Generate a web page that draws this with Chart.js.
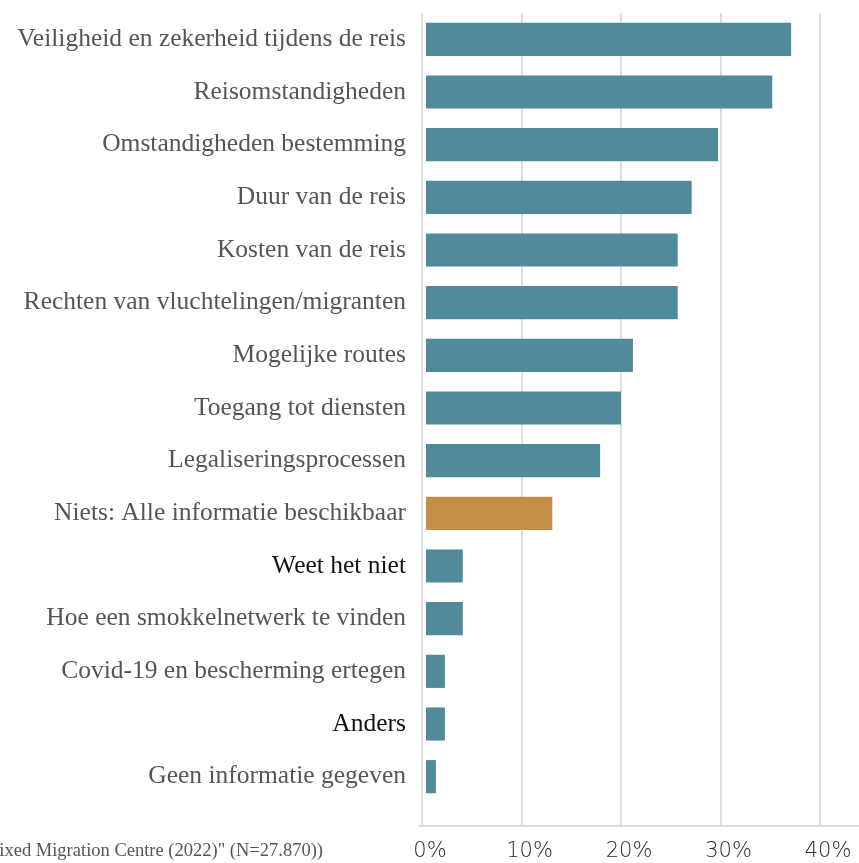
<!DOCTYPE html>
<html>
<head>
<meta charset="utf-8">
<script src="https://cdn.jsdelivr.net/npm/chart.js@4"></script>
<style>
  body { margin: 0; background: #fff; overflow: hidden; }
  #wrap { position: relative; width: 859px; height: 863px; overflow: hidden; }
  #source {
    position: absolute; right: 536px; top: 840px;
    font-family: "Liberation Serif", serif; font-size: 18.5px; color: #555;
    white-space: nowrap;
  }
</style>
</head>
<body>
<div id="wrap">
  <canvas id="myChart" width="859" height="863"></canvas>
  <div id="source">Mixed Migration Centre (2022)" (N=27.870))</div>
</div>
<script>
const labels = [
  "Veiligheid en zekerheid tijdens de reis",
  "Reisomstandigheden",
  "Omstandigheden bestemming",
  "Duur van de reis",
  "Kosten van de reis",
  "Rechten van vluchtelingen/migranten",
  "Mogelijke routes",
  "Toegang tot diensten",
  "Legaliseringsprocessen",
  "Niets: Alle informatie beschikbaar",
  "Weet het niet",
  "Hoe een smokkelnetwerk te vinden",
  "Covid-19 en bescherming ertegen",
  "Anders",
  "Geen informatie gegeven"
];
const percent = [37.1, 35.2, 29.75, 27.1, 25.7, 25.7, 21.2, 20.0, 17.9, 13.1, 4.1, 4.1, 2.3, 2.3, 1.4];
const xTicks = [0, 10, 20, 30, 40];

const ctx = document.getElementById("myChart");

function barColors(labels) {
  let bg = [];
  for (let i = 0; i < labels.length; i++) {
    if (labels[i].startsWith("Niets")) {
      bg.push("#c48f48");
    } else {
      bg.push("#518a9a");
    }
  }
  return bg;
}

function labelColors(labels) {
  return labels.map((l) => (l == "Weet het niet" || l == "Anders") ? "#111" : "#555");
}

// horizontal axis line under the tick area
const axisLine = {
  id: "axisLine",
  afterDraw(chart) {
    const x = chart.scales.x;
    const y = x.top + x.options.grid.tickLength + 1;
    const c = chart.ctx;
    c.save();
    c.strokeStyle = "#dcdcdc";
    c.lineWidth = 2;
    c.beginPath();
    c.moveTo(chart.chartArea.left - 4, y);
    c.lineTo(chart.width, y);
    c.stroke();
    c.restore();
  }
};

new Chart(ctx, {
  type: "bar",
  data: {
    labels: labels,
    datasets: [
      {
        data: percent,
        backgroundColor: barColors(labels),
        base: 0.4,
        barPercentage: 0.63,
        categoryPercentage: 1,
      },
    ],
  },
  plugins: [axisLine],
  options: {
    indexAxis: "y",
    responsive: false,
    animation: false,
    layout: { padding: { top: 13, right: 39, bottom: 0, left: 0 } },
    plugins: {
      legend: { display: false },
      tooltip: { enabled: false },
    },
    scales: {
      x: {
        min: 0,
        max: 40,
        afterBuildTicks: (scale) => {
          scale.ticks = xTicks.map((v) => ({ value: v }));
        },
        afterFit: (scale) => {
          scale.paddingLeft = 0;
          scale.paddingRight = 0;
          scale.height = 60;
        },
        border: { display: false },
        grid: {
          color: "#dedede",
          lineWidth: 2,
          drawTicks: true,
          tickLength: 22,
        },
        ticks: {
          padding: 14,
          labelOffset: 8,
          color: "#2a2a2a",
          font: { family: "DejaVu Sans", size: 21, weight: 200 },
          callback: (v) => v + "%",
        },
      },
      y: {
        afterFit: (scale) => {
          scale.paddingTop = 0;
          scale.paddingBottom = 0;
          scale.width = 422;
        },
        border: { display: false },
        grid: { display: false },
        ticks: {
          padding: 8,
          color: labelColors(labels),
          font: { family: "Liberation Serif", size: 25.5 },
        },
      },
    },
  },
});
</script>
</body>
</html>
